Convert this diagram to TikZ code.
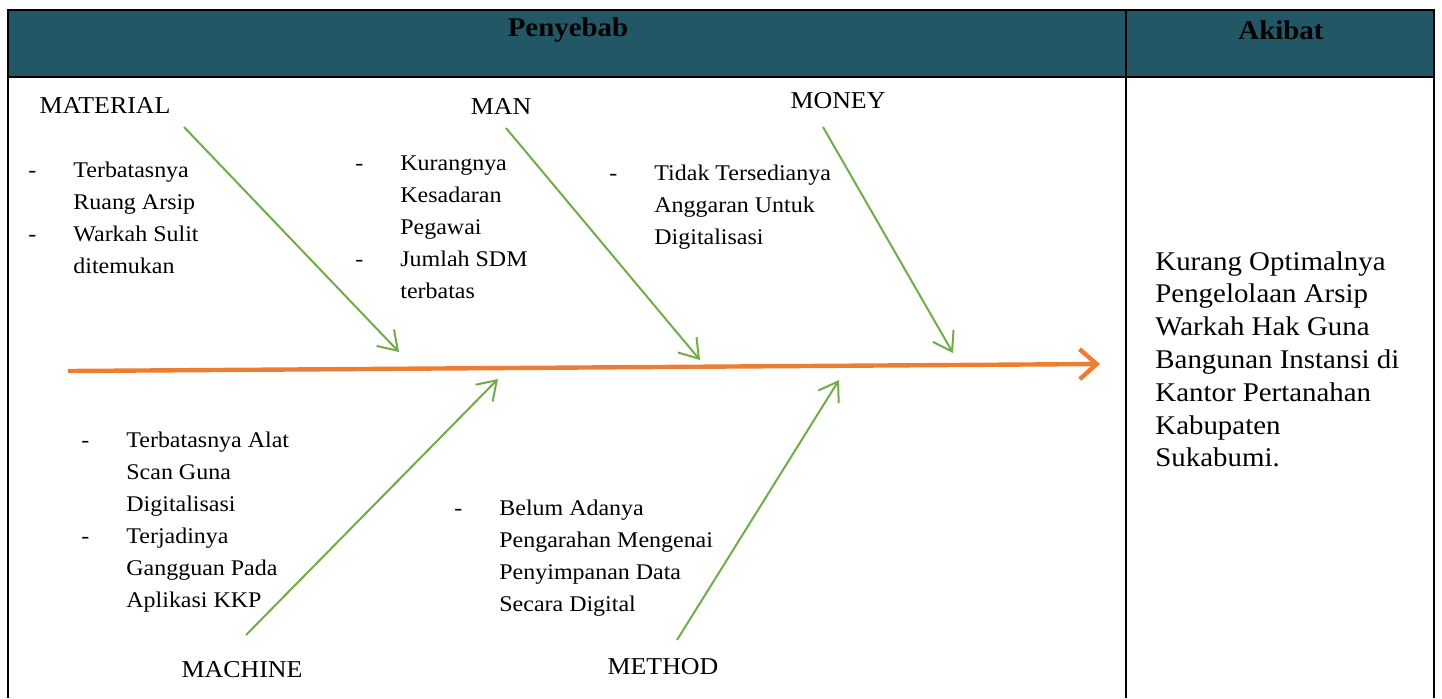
\documentclass[tikz,border=0pt]{standalone}
\usepackage{fontspec}
\setmainfont{Liberation Serif}
\newfontfamily\widefont[FakeStretch=1.07]{Liberation Serif}
\usetikzlibrary{arrows.meta}
\definecolor{headteal}{RGB}{34,88,102}
\definecolor{boneorange}{RGB}{237,125,49}
\definecolor{bonegreen}{RGB}{112,173,71}
\newcommand{\dashit}{\makebox[22.5pt][l]{-}}
\newcommand{\hang}{\hspace*{22.5pt}}

\begin{document}
\begin{tikzpicture}[x=0.5pt, y=-0.5pt,
	grid/.style={line width=1pt, black},
	spine/.style={line width=2.2pt, boneorange, -{Straight Barb[length=8.5pt, width=15pt]}},
	bone/.style={line width=1pt, bonegreen, -{Straight Barb[length=9pt, width=12pt]}},
	cause/.style={font=\widefont\fontsize{12.1}{14}\selectfont, inner sep=0pt},
	items/.style={font=\widefont\fontsize{11.2}{16}\selectfont, align=left, anchor=north west, inner sep=0pt},
	headtext/.style={font=\widefont\fontsize{13.5}{15}\selectfont\bfseries, inner sep=0pt}]
	%%%%% START %%%%%
	
	\useasboundingbox (0, 0) rectangle (1442, 698);
	
	% table
	\fill[headteal] (8, 10) rectangle (1434, 77);
	\draw[grid] (8, 698) -- (8, 10) -- (1434, 10) -- (1434, 698);
	\draw[grid] (8, 77) -- (1434, 77);
	\draw[grid] (1126, 10) -- (1126, 698);
	
	\node[headtext] (penyebab) at (568, 30) {Penyebab};
	\node[headtext] (akibat) at (1281, 30) {Akibat};
	
	% spine
	\coordinate (tail) at (68, 371);
	\coordinate (head) at (1100, 364);
	\draw[spine] (tail) -- (head);
	
	% cause labels
	\node[cause] (material) at (105, 106) {MATERIAL};
	\node[cause] (man) at (501, 107) {MAN};
	\node[cause] (money) at (838, 101) {MONEY};
	\node[cause] (machine) at (242, 670) {MACHINE};
	\node[cause] (method) at (663, 667) {METHOD};
	
	% bones
	\coordinate (matA) at (184, 127);
	\coordinate (matB) at (399, 352);
	\coordinate (manA) at (506, 128);
	\coordinate (manB) at (700, 360);
	\coordinate (monA) at (823, 127);
	\coordinate (monB) at (953, 353);
	\coordinate (macA) at (246, 635);
	\coordinate (macB) at (498, 379);
	\coordinate (metA) at (677, 640);
	\coordinate (metB) at (839, 380);
	\draw[bone] (matA) -- (matB);
	\draw[bone] (manA) -- (manB);
	\draw[bone] (monA) -- (monB);
	\draw[bone] (macA) -- (macB);
	\draw[bone] (metA) -- (metB);
	
	% causes
	\node[items] (matitems) at (28, 162) {\dashit Terbatasnya\\ \hang Ruang Arsip\\ \dashit Warkah Sulit\\ \hang ditemukan};
	\node[items] (manitems) at (355, 155) {\dashit Kurangnya\\ \hang Kesadaran\\ \hang Pegawai\\ \dashit Jumlah SDM\\ \hang terbatas};
	\node[items] (monitems) at (609, 165) {\dashit Tidak Tersedianya\\ \hang Anggaran Untuk\\ \hang Digitalisasi};
	\node[items] (macitems) at (81, 432) {\dashit Terbatasnya Alat\\ \hang Scan Guna\\ \hang Digitalisasi\\ \dashit Terjadinya\\ \hang Gangguan Pada\\ \hang Aplikasi KKP};
	\node[items] (metitems) at (454, 500) {\dashit Belum Adanya\\ \hang Pengarahan Mengenai\\ \hang Penyimpanan Data\\ \hang Secara Digital};
	
	% effect
	\node[items, font=\widefont\fontsize{13.5}{16.4}\selectfont] (effect) at (1155, 251) {Kurang Optimalnya\\ Pengelolaan Arsip\\ Warkah Hak Guna\\ Bangunan Instansi di\\ Kantor Pertanahan\\ Kabupaten\\ Sukabumi.};
	
	%%%%% END %%%%%
\end{tikzpicture}
\end{document}
